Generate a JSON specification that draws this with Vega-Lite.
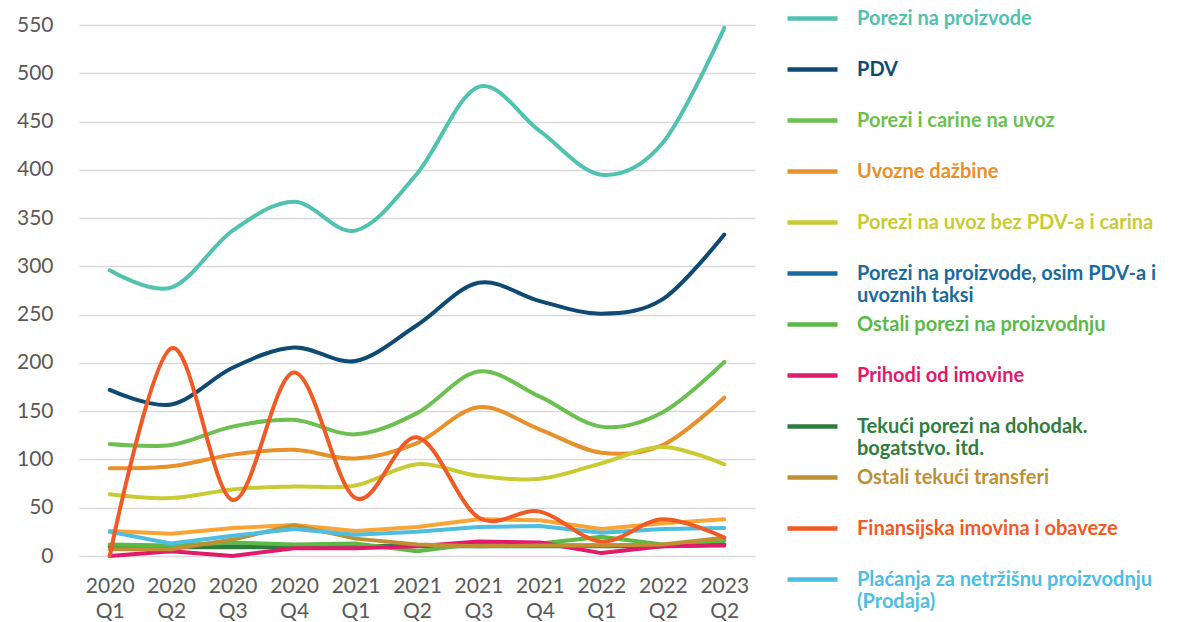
{
  "$schema": "https://vega.github.io/schema/vega-lite/v6.json",
  "width": 676,
  "height": 531,
  "autosize": {"type": "none"},
  "padding": {"left": 79, "top": 25, "right": 439, "bottom": 66},
  "background": "white",
  "config": {"view": {"stroke": null}, "font": "Lato"},
  "datasets": {
    "main": [
      {"q": "2020 Q1", "s": "Porezi na proizvode", "v": 296},
      {"q": "2020 Q2", "s": "Porezi na proizvode", "v": 278},
      {"q": "2020 Q3", "s": "Porezi na proizvode", "v": 337},
      {"q": "2020 Q4", "s": "Porezi na proizvode", "v": 367},
      {"q": "2021 Q1", "s": "Porezi na proizvode", "v": 337},
      {"q": "2021 Q2", "s": "Porezi na proizvode", "v": 396},
      {"q": "2021 Q3", "s": "Porezi na proizvode", "v": 486},
      {"q": "2021 Q4", "s": "Porezi na proizvode", "v": 440},
      {"q": "2022 Q1", "s": "Porezi na proizvode", "v": 395},
      {"q": "2022 Q2", "s": "Porezi na proizvode", "v": 428},
      {"q": "2023 Q2", "s": "Porezi na proizvode", "v": 547},
      {"q": "2020 Q1", "s": "PDV", "v": 172},
      {"q": "2020 Q2", "s": "PDV", "v": 157},
      {"q": "2020 Q3", "s": "PDV", "v": 195},
      {"q": "2020 Q4", "s": "PDV", "v": 216},
      {"q": "2021 Q1", "s": "PDV", "v": 202},
      {"q": "2021 Q2", "s": "PDV", "v": 239},
      {"q": "2021 Q3", "s": "PDV", "v": 283},
      {"q": "2021 Q4", "s": "PDV", "v": 264},
      {"q": "2022 Q1", "s": "PDV", "v": 251},
      {"q": "2022 Q2", "s": "PDV", "v": 266},
      {"q": "2023 Q2", "s": "PDV", "v": 333},
      {"q": "2020 Q1", "s": "Porezi i carine na uvoz", "v": 116},
      {"q": "2020 Q2", "s": "Porezi i carine na uvoz", "v": 115},
      {"q": "2020 Q3", "s": "Porezi i carine na uvoz", "v": 134},
      {"q": "2020 Q4", "s": "Porezi i carine na uvoz", "v": 141},
      {"q": "2021 Q1", "s": "Porezi i carine na uvoz", "v": 126},
      {"q": "2021 Q2", "s": "Porezi i carine na uvoz", "v": 148},
      {"q": "2021 Q3", "s": "Porezi i carine na uvoz", "v": 191},
      {"q": "2021 Q4", "s": "Porezi i carine na uvoz", "v": 165},
      {"q": "2022 Q1", "s": "Porezi i carine na uvoz", "v": 134},
      {"q": "2022 Q2", "s": "Porezi i carine na uvoz", "v": 149},
      {"q": "2023 Q2", "s": "Porezi i carine na uvoz", "v": 201},
      {"q": "2020 Q1", "s": "Uvozne dažbine", "v": 91},
      {"q": "2020 Q2", "s": "Uvozne dažbine", "v": 93},
      {"q": "2020 Q3", "s": "Uvozne dažbine", "v": 105},
      {"q": "2020 Q4", "s": "Uvozne dažbine", "v": 110},
      {"q": "2021 Q1", "s": "Uvozne dažbine", "v": 101},
      {"q": "2021 Q2", "s": "Uvozne dažbine", "v": 117},
      {"q": "2021 Q3", "s": "Uvozne dažbine", "v": 154},
      {"q": "2021 Q4", "s": "Uvozne dažbine", "v": 131},
      {"q": "2022 Q1", "s": "Uvozne dažbine", "v": 107},
      {"q": "2022 Q2", "s": "Uvozne dažbine", "v": 115},
      {"q": "2023 Q2", "s": "Uvozne dažbine", "v": 164},
      {"q": "2020 Q1", "s": "Porezi na uvoz bez PDV-a i carina", "v": 64},
      {"q": "2020 Q2", "s": "Porezi na uvoz bez PDV-a i carina", "v": 60},
      {"q": "2020 Q3", "s": "Porezi na uvoz bez PDV-a i carina", "v": 69},
      {"q": "2020 Q4", "s": "Porezi na uvoz bez PDV-a i carina", "v": 72},
      {"q": "2021 Q1", "s": "Porezi na uvoz bez PDV-a i carina", "v": 73},
      {"q": "2021 Q2", "s": "Porezi na uvoz bez PDV-a i carina", "v": 95},
      {"q": "2021 Q3", "s": "Porezi na uvoz bez PDV-a i carina", "v": 83},
      {"q": "2021 Q4", "s": "Porezi na uvoz bez PDV-a i carina", "v": 80},
      {"q": "2022 Q1", "s": "Porezi na uvoz bez PDV-a i carina", "v": 96},
      {"q": "2022 Q2", "s": "Porezi na uvoz bez PDV-a i carina", "v": 113},
      {"q": "2023 Q2", "s": "Porezi na uvoz bez PDV-a i carina", "v": 95},
      {"q": "2020 Q1", "s": "Finansijska imovina i obaveze", "v": 0},
      {"q": "2020 Q2", "s": "Finansijska imovina i obaveze", "v": 215},
      {"q": "2020 Q3", "s": "Finansijska imovina i obaveze", "v": 58},
      {"q": "2020 Q4", "s": "Finansijska imovina i obaveze", "v": 190},
      {"q": "2021 Q1", "s": "Finansijska imovina i obaveze", "v": 60},
      {"q": "2021 Q2", "s": "Finansijska imovina i obaveze", "v": 123},
      {"q": "2021 Q3", "s": "Finansijska imovina i obaveze", "v": 40},
      {"q": "2021 Q4", "s": "Finansijska imovina i obaveze", "v": 46},
      {"q": "2022 Q1", "s": "Finansijska imovina i obaveze", "v": 15},
      {"q": "2022 Q2", "s": "Finansijska imovina i obaveze", "v": 38},
      {"q": "2023 Q2", "s": "Finansijska imovina i obaveze", "v": 19}
    ],
    "small": [
      {"q": "2020 Q1", "s": "Porezi na proizvode, osim PDV-a i uvoznih taksi", "v": 10},
      {"q": "2020 Q2", "s": "Porezi na proizvode, osim PDV-a i uvoznih taksi", "v": 10},
      {"q": "2020 Q3", "s": "Porezi na proizvode, osim PDV-a i uvoznih taksi", "v": 10},
      {"q": "2020 Q4", "s": "Porezi na proizvode, osim PDV-a i uvoznih taksi", "v": 10},
      {"q": "2021 Q1", "s": "Porezi na proizvode, osim PDV-a i uvoznih taksi", "v": 10},
      {"q": "2021 Q2", "s": "Porezi na proizvode, osim PDV-a i uvoznih taksi", "v": 11},
      {"q": "2021 Q3", "s": "Porezi na proizvode, osim PDV-a i uvoznih taksi", "v": 11},
      {"q": "2021 Q4", "s": "Porezi na proizvode, osim PDV-a i uvoznih taksi", "v": 11},
      {"q": "2022 Q1", "s": "Porezi na proizvode, osim PDV-a i uvoznih taksi", "v": 11},
      {"q": "2022 Q2", "s": "Porezi na proizvode, osim PDV-a i uvoznih taksi", "v": 11},
      {"q": "2023 Q2", "s": "Porezi na proizvode, osim PDV-a i uvoznih taksi", "v": 12},
      {"q": "2020 Q1", "s": "Tekući porezi na dohodak. bogatstvo. itd.", "v": 9},
      {"q": "2020 Q2", "s": "Tekući porezi na dohodak. bogatstvo. itd.", "v": 9},
      {"q": "2020 Q3", "s": "Tekući porezi na dohodak. bogatstvo. itd.", "v": 9},
      {"q": "2020 Q4", "s": "Tekući porezi na dohodak. bogatstvo. itd.", "v": 9},
      {"q": "2021 Q1", "s": "Tekući porezi na dohodak. bogatstvo. itd.", "v": 10},
      {"q": "2021 Q2", "s": "Tekući porezi na dohodak. bogatstvo. itd.", "v": 10},
      {"q": "2021 Q3", "s": "Tekući porezi na dohodak. bogatstvo. itd.", "v": 10},
      {"q": "2021 Q4", "s": "Tekući porezi na dohodak. bogatstvo. itd.", "v": 10},
      {"q": "2022 Q1", "s": "Tekući porezi na dohodak. bogatstvo. itd.", "v": 10},
      {"q": "2022 Q2", "s": "Tekući porezi na dohodak. bogatstvo. itd.", "v": 10},
      {"q": "2023 Q2", "s": "Tekući porezi na dohodak. bogatstvo. itd.", "v": 12},
      {"q": "2020 Q1", "s": "Ostali porezi na proizvodnju", "v": 12},
      {"q": "2020 Q2", "s": "Ostali porezi na proizvodnju", "v": 11},
      {"q": "2020 Q3", "s": "Ostali porezi na proizvodnju", "v": 14},
      {"q": "2020 Q4", "s": "Ostali porezi na proizvodnju", "v": 12},
      {"q": "2021 Q1", "s": "Ostali porezi na proizvodnju", "v": 13},
      {"q": "2021 Q2", "s": "Ostali porezi na proizvodnju", "v": 5},
      {"q": "2021 Q3", "s": "Ostali porezi na proizvodnju", "v": 13},
      {"q": "2021 Q4", "s": "Ostali porezi na proizvodnju", "v": 13},
      {"q": "2022 Q1", "s": "Ostali porezi na proizvodnju", "v": 20},
      {"q": "2022 Q2", "s": "Ostali porezi na proizvodnju", "v": 12},
      {"q": "2023 Q2", "s": "Ostali porezi na proizvodnju", "v": 16},
      {"q": "2020 Q1", "s": "Prihodi od imovine", "v": 0},
      {"q": "2020 Q2", "s": "Prihodi od imovine", "v": 5},
      {"q": "2020 Q3", "s": "Prihodi od imovine", "v": 0},
      {"q": "2020 Q4", "s": "Prihodi od imovine", "v": 8},
      {"q": "2021 Q1", "s": "Prihodi od imovine", "v": 8},
      {"q": "2021 Q2", "s": "Prihodi od imovine", "v": 10},
      {"q": "2021 Q3", "s": "Prihodi od imovine", "v": 15},
      {"q": "2021 Q4", "s": "Prihodi od imovine", "v": 14},
      {"q": "2022 Q1", "s": "Prihodi od imovine", "v": 3},
      {"q": "2022 Q2", "s": "Prihodi od imovine", "v": 10},
      {"q": "2023 Q2", "s": "Prihodi od imovine", "v": 11},
      {"q": "2020 Q1", "s": "Ostali tekući transferi", "v": 7},
      {"q": "2020 Q2", "s": "Ostali tekući transferi", "v": 7},
      {"q": "2020 Q3", "s": "Ostali tekući transferi", "v": 17},
      {"q": "2020 Q4", "s": "Ostali tekući transferi", "v": 32},
      {"q": "2021 Q1", "s": "Ostali tekući transferi", "v": 18},
      {"q": "2021 Q2", "s": "Ostali tekući transferi", "v": 12},
      {"q": "2021 Q3", "s": "Ostali tekući transferi", "v": 10},
      {"q": "2021 Q4", "s": "Ostali tekući transferi", "v": 11},
      {"q": "2022 Q1", "s": "Ostali tekući transferi", "v": 11},
      {"q": "2022 Q2", "s": "Ostali tekući transferi", "v": 12},
      {"q": "2023 Q2", "s": "Ostali tekući transferi", "v": 19},
      {"q": "2020 Q1", "s": "Plaćanja za netržišnu proizvodnju (Prodaja)", "v": 25},
      {"q": "2020 Q2", "s": "Plaćanja za netržišnu proizvodnju (Prodaja)", "v": 13},
      {"q": "2020 Q3", "s": "Plaćanja za netržišnu proizvodnju (Prodaja)", "v": 21},
      {"q": "2020 Q4", "s": "Plaćanja za netržišnu proizvodnju (Prodaja)", "v": 28},
      {"q": "2021 Q1", "s": "Plaćanja za netržišnu proizvodnju (Prodaja)", "v": 22},
      {"q": "2021 Q2", "s": "Plaćanja za netržišnu proizvodnju (Prodaja)", "v": 25},
      {"q": "2021 Q3", "s": "Plaćanja za netržišnu proizvodnju (Prodaja)", "v": 30},
      {"q": "2021 Q4", "s": "Plaćanja za netržišnu proizvodnju (Prodaja)", "v": 31},
      {"q": "2022 Q1", "s": "Plaćanja za netržišnu proizvodnju (Prodaja)", "v": 24},
      {"q": "2022 Q2", "s": "Plaćanja za netržišnu proizvodnju (Prodaja)", "v": 28},
      {"q": "2023 Q2", "s": "Plaćanja za netržišnu proizvodnju (Prodaja)", "v": 29}
    ],
    "extra": [
      {"q": "2020 Q1", "v": 26},
      {"q": "2020 Q2", "v": 23},
      {"q": "2020 Q3", "v": 29},
      {"q": "2020 Q4", "v": 32},
      {"q": "2021 Q1", "v": 26},
      {"q": "2021 Q2", "v": 30},
      {"q": "2021 Q3", "v": 38},
      {"q": "2021 Q4", "v": 37},
      {"q": "2022 Q1", "v": 28},
      {"q": "2022 Q2", "v": 34},
      {"q": "2023 Q2", "v": 38}
    ]
  },
  "encoding": {
    "x": {
      "field": "q",
      "type": "ordinal",
      "sort": null,
      "scale": {"type": "point", "padding": 0.5},
      "axis": {
        "title": null,
        "labelAngle": 0,
        "labelExpr": "split(datum.label, ' ')",
        "labelFontSize": 21,
        "labelColor": "#595959",
        "labelPadding": 19,
        "labelLineHeight": 25,
        "ticks": false,
        "domain": false,
        "grid": false
      }
    },
    "y": {
      "field": "v",
      "type": "quantitative",
      "scale": {"domain": [0, 550], "nice": false, "zero": true},
      "axis": {
        "title": null,
        "values": [0, 50, 100, 150, 200, 250, 300, 350, 400, 450, 500, 550],
        "labelFontSize": 21,
        "labelColor": "#595959",
        "labelPadding": 26,
        "ticks": false,
        "domain": false,
        "grid": true,
        "gridColor": "#d9d9d9",
        "gridWidth": 1.5
      }
    }
  },
  "layer": [
    {
      "data": {"name": "extra"},
      "mark": {"type": "line", "color": "#f9a435", "strokeWidth": 4, "strokeCap": "round", "strokeJoin": "round"}
    },
    {
      "data": {"name": "small"},
      "mark": {"type": "line", "strokeWidth": 4, "strokeCap": "round", "strokeJoin": "round"},
      "encoding": {
        "color": {
          "field": "s",
          "type": "nominal",
          "scale": {
            "domain": ["Porezi na proizvode", "PDV", "Porezi i carine na uvoz", "Uvozne dažbine", "Porezi na uvoz bez PDV-a i carina", "Porezi na proizvode, osim PDV-a i uvoznih taksi", "Ostali porezi na proizvodnju", "Prihodi od imovine", "Tekući porezi na dohodak. bogatstvo. itd.", "Ostali tekući transferi", "Finansijska imovina i obaveze", "Plaćanja za netržišnu proizvodnju (Prodaja)"],
            "range": ["#52c2b0", "#0e4a72", "#6cbf50", "#e8902a", "#c8cb33", "#1a6aa0", "#5cb946", "#e01b6b", "#2f7d3e", "#c08f34", "#f15a24", "#4dbde0"]
          },
          "legend": {
            "orient": "none",
            "legendX": 706,
            "legendY": -25.4,
            "title": null,
            "symbolType": "stroke",
            "symbolSize": 2500,
            "symbolStrokeWidth": 4.5,
            "labelFont": "Lato",
            "labelFontSize": 20,
            "labelFontWeight": "bold",
            "labelLineHeight": 26,
            "labelOffset": 17,
            "labelLimit": 400,
            "rowPadding": 0,
            "clipHeight": 38,
            "labelExpr": "datum.label == 'Porezi na proizvode, osim PDV-a i uvoznih taksi' ? ['Porezi na proizvode, osim PDV-a i', 'uvoznih taksi'] : datum.label == 'Tekući porezi na dohodak. bogatstvo. itd.' ? ['Tekući porezi na dohodak.', 'bogatstvo. itd.'] : datum.label == 'Plaćanja za netržišnu proizvodnju (Prodaja)' ? ['Plaćanja za netržišnu proizvodnju', '(Prodaja)'] : [datum.label, ' ']",
            "encode": {"labels": {"update": {"fill": {"scale": "color", "field": "value"}}}}
          }
        }
      }
    },
    {
      "data": {"name": "main"},
      "mark": {"type": "line", "interpolate": "cardinal", "strokeWidth": 4, "strokeCap": "round", "strokeJoin": "round"},
      "encoding": {
        "color": {"field": "s", "type": "nominal"}
      }
    }
  ]
}
